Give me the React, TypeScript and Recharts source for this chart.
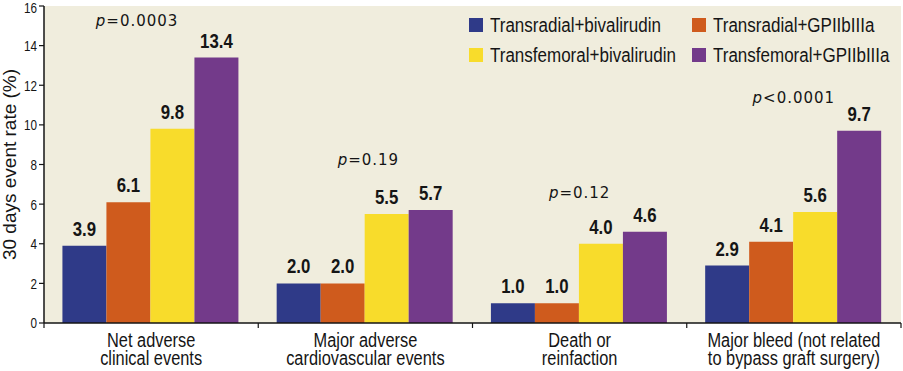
import React from 'react';
import { BarChart, Bar, XAxis, YAxis, CartesianGrid, Legend, LabelList, ReferenceDot, Label } from 'recharts';

const categories = [
  'Net adverse\nclinical events',
  'Major adverse\ncardiovascular events',
  'Death or\nreinfaction',
  'Major bleed (not related\nto bypass graft surgery)',
];
const transradialBivalirudin = [3.9, 2.0, 1.0, 2.9];
const transradialGPIIbIIIa = [6.1, 2.0, 1.0, 4.1];
const transfemoralBivalirudin = [9.8, 5.5, 4.0, 5.6];
const transfemoralGPIIbIIIa = [13.4, 5.7, 4.6, 9.7];
const seriesNames = [
  'Transradial+bivalirudin',
  'Transradial+GPIIbIIIa',
  'Transfemoral+bivalirudin',
  'Transfemoral+GPIIbIIIa',
];
const seriesKeys = ['trb', 'trg', 'tfb', 'tfg'];
const seriesColors = ['#2f3a88', '#cf5b1d', '#f8dc2b', '#733a8a'];
const pSymbols = ['=', '=', '=', '<'];
const pNumbers = ['0.0003', '0.19', '0.12', '0.0001'];
const pLabelY = [15.0, 8.0, 6.3, 11.1];
const pLabelDx = [-14, 3, 0, 0];
const yTicks = [0, 2, 4, 6, 8, 10, 12, 14, 16];

const data = categories.map((c, i) => ({
  category: c,
  trb: transradialBivalirudin[i],
  trg: transradialGPIIbIIIa[i],
  tfb: transfemoralBivalirudin[i],
  tfg: transfemoralGPIIbIIIa[i],
}));

const SANS = "'Liberation Sans', Arial, sans-serif";
const INK = '#151515';

const NText = (props: any) => {
  const { x, y, sx, children, ...rest } = props;
  return (
    <text transform={`translate(${x} ${y}) scale(${sx} 1)`} x={0} y={0} fontFamily={SANS} fill={INK} {...rest}>
      {children}
    </text>
  );
};

const CategoryTick = (props: any) => {
  const { x, y, payload, index, visibleTicksCount } = props;
  const half = payload && typeof payload.offset === 'number' && payload.offset > 0 ? payload.offset : 107;
  const lines = String(payload.value).split('\n');
  const isLast = index === visibleTicksCount - 1;
  return (
    <g>
      <line x1={x - half} x2={x - half} y1={y} y2={y + 5} stroke={INK} strokeWidth={1.2} />
      {isLast && <line x1={x + half} x2={x + half} y1={y} y2={y + 5} stroke={INK} strokeWidth={1.2} />}
      {lines.map((l, k) => (
        <NText key={k} x={x} y={y + 24 + k * 18} sx={0.78} textAnchor="middle" fontSize={21}>
          {l}
        </NText>
      ))}
    </g>
  );
};

const ValueTick = (props: any) => {
  const { x, y, payload } = props;
  return (
    <NText x={x} y={Math.max(y, 7.5)} sx={0.78} textAnchor="end" dy="0.36em" fontSize={15}>
      {payload.value}
    </NText>
  );
};

const LegendContent = () => (
  <div
    style={{
      display: 'grid',
      gridTemplateColumns: '223px 200px',
      gridAutoRows: '30px',
      fontFamily: SANS,
      fontSize: 20,
      color: INK,
    }}
  >
    {[0, 1, 2, 3].map((i) => (
      <div key={i} style={{ display: 'flex', alignItems: 'center', whiteSpace: 'nowrap' }}>
        <span
          style={{ width: 14, height: 14, flexShrink: 0, background: seriesColors[i], display: 'inline-block', marginRight: 7 }}
        />
        <span style={{ display: 'inline-block', transform: 'scaleX(0.85)', transformOrigin: 'left center' }}>
          {seriesNames[i]}
        </span>
      </div>
    ))}
  </div>
);

const makePShape = (i: number) => (props: any) => {
  const { cx, cy } = props;
  return (
    <text
      x={cx + pLabelDx[i]}
      y={cy}
      textAnchor="middle"
      fontFamily="'DejaVu Sans', sans-serif"
      fontSize={15}
      letterSpacing={1}
      fill={INK}
    >
      <tspan fontStyle="italic">p</tspan>
      <tspan>{pSymbols[i] + pNumbers[i]}</tspan>
    </text>
  );
};

const BarValue = (props: any) => {
  const { x, y, width, value } = props;
  return (
    <NText x={x + width / 2} y={y - 10} sx={0.8} textAnchor="middle" fontSize={21} fontWeight="bold">
      {Number(value).toFixed(1)}
    </NText>
  );
};

export default function App() {
  return (
    <div style={{ position: 'absolute', left: 0, top: 0, width: 903, height: 371, background: '#fff' }}>
      <BarChart
        width={903}
        height={371}
        data={data}
        margin={{ top: 6, right: 2, bottom: 0, left: 0 }}
        barCategoryGap="8.6%"
        barGap={0}
      >
        <CartesianGrid horizontal={false} vertical={false} fill="#f0eddd" />
        <XAxis
          dataKey="category"
          height={48}
          tick={<CategoryTick />}
          tickLine={false}
          tickSize={0}
          tickMargin={0}
          interval={0}
          axisLine={{ stroke: INK, strokeWidth: 1.5 }}
        />
        <YAxis
          width={44}
          domain={[0, 16]}
          ticks={yTicks}
          interval={0}
          tickSize={5}
          tickMargin={2}
          tick={<ValueTick />}
          tickLine={{ stroke: INK, strokeWidth: 1.2 }}
          axisLine={{ stroke: INK, strokeWidth: 1.5 }}
        >
          <Label
            value="30 days event rate (%)"
            angle={-90}
            position="center"
            dx={-13}
            style={{ fontFamily: SANS, fontSize: 19, fill: INK }}
          />
        </YAxis>
        <Legend
          layout="vertical"
          align="center"
          verticalAlign="middle"
          content={<LegendContent />}
          wrapperStyle={{ position: 'absolute', left: 469, top: 10, width: 430, height: 60 }}
        />
        {seriesKeys.map((k, i) => (
          <Bar key={k} dataKey={k} name={seriesNames[i]} fill={seriesColors[i]} isAnimationActive={false}>
            <LabelList dataKey={k} content={<BarValue />} />
          </Bar>
        ))}
        {categories.map((c, i) => (
          <ReferenceDot key={'p' + i} x={c} y={pLabelY[i]} r={0} shape={makePShape(i)} ifOverflow="visible" />
        ))}
      </BarChart>
    </div>
  );
}
